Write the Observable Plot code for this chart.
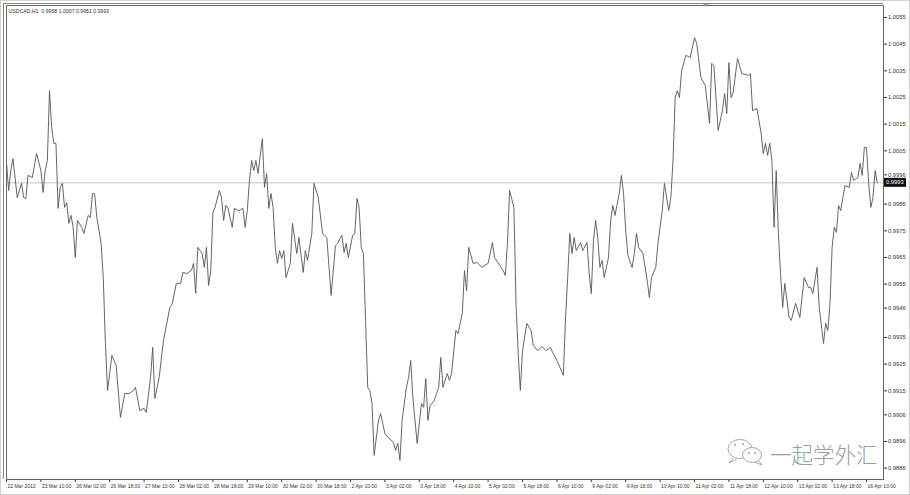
<!DOCTYPE html>
<html><head><meta charset="utf-8">
<script src="https://cdn.jsdelivr.net/npm/d3@7"></script>
<script src="https://cdn.jsdelivr.net/npm/@observablehq/plot@0.6"></script>
<style>
html,body{margin:0;padding:0;background:#fff;}
#chart{position:relative;width:910px;height:495px;overflow:hidden;}
#chart svg{display:block;}
</style>
</head><body><div id="chart"></div>
<script>
// ---------- data ----------
const symbolHeader = "USDCAD,H1  0.9958 1.0007 0.9951 0.9993";
const lastClose = 0.9993;
const watermarkText = "一起学外汇";

const priceTickLabels = ["1.0055","1.0045","1.0035","1.0025","1.0015","1.0005","0.9996","0.9985","0.9975",
  "0.9965","0.9955","0.9946","0.9935","0.9925","0.9915","0.9906","0.9896","0.9886"];

const timeTickBars = [0,16,32,48,64,80,96,112,128,144,160,176,192,208,224,240,256,272,288,304,320,336,352,368,384,400];
const timeTickLabels = ["22 Mar 2012","23 Mar 10:00","26 Mar 02:00","26 Mar 18:00","27 Mar 10:00","28 Mar 02:00",
  "28 Mar 18:00","29 Mar 10:00","30 Mar 02:00","30 Mar 18:00","2 Apr 10:00","3 Apr 02:00","3 Apr 18:00",
  "4 Apr 10:00","5 Apr 02:00","5 Apr 18:00","6 Apr 10:00","9 Apr 02:00","9 Apr 18:00","10 Apr 10:00",
  "11 Apr 02:00","11 Apr 18:00","12 Apr 10:00","13 Apr 02:00","13 Apr 18:00","16 Apr 10:00"];

// [hourly bar index, close]
const priceSeries = [
  [0,1.00006],[1,0.99901],[2,0.99976],[3,1.00021],[5,0.99875],[7,0.99928],[8,0.99875],[9,0.99871],[10,0.99958],
  [12,0.99950],[14,1.00040],[16,0.99976],[17,0.99894],[18,0.99976],[19,1.00014],[20,1.00276],[21,1.00138],
  [22,1.00078],[23,1.00078],[24,0.99834],[25,0.99913],[26,0.99928],[27,0.99838],[28,0.99856],[29,0.99778],
  [30,0.99808],[31,0.99763],[32,0.99650],[33,0.99789],[35,0.99763],[36,0.99740],[38,0.99808],[39,0.99800],
  [40,0.99890],[41,0.99890],[42,0.99800],[44,0.99703],[45,0.99575],[46,0.99328],[47,0.99151],[49,0.99283],
  [51,0.99245],[53,0.99050],[55,0.99140],[57,0.99140],[59,0.99151],[60,0.99163],[62,0.99076],[64,0.99084],
  [65,0.99069],[67,0.99200],[68,0.99313],[69,0.99121],[71,0.99200],[73,0.99339],[76,0.99463],[77,0.99474],
  [79,0.99553],[81,0.99553],
  [82,0.99594],[84,0.99590],[86,0.99601],[87,0.99628],[88,0.99515],[89,0.99688],[91,0.99665],[92,0.99613],
  [93,0.99688],[94,0.99545],[95,0.99601],[96,0.99819],[97,0.99838],[99,0.99901],[100,0.99875],[101,0.99789],
  [102,0.99845],[103,0.99834],[105,0.99763],[106,0.99834],[108,0.99826],[110,0.99834],[111,0.99763],
  [112,0.99826],[113,0.99939],[114,1.00014],[115,0.99976],[116,1.00014],[117,0.99965],[119,1.00096],
  [120,0.99913],[121,0.99965],[122,0.99834],[123,0.99890],[124,0.99838],[125,0.99688],[126,0.99628],
  [127,0.99676],[128,0.99646],[129,0.99676],[130,0.99575],[132,0.99628],[133,0.99778],[135,0.99665],
  [136,0.99725],[138,0.99594],[139,0.99676],[140,0.99639],[142,0.99740],[143,0.99928],[145,0.99875],
  [147,0.99740],[149,0.99725],[150,0.99613],[151,0.99508],[153,0.99695],[154,0.99703],[156,0.99733],
  [157,0.99669],[158,0.99703],[159,0.99650],[161,0.99733],
  [162,0.99740],[163,0.99871],[164,0.99838],[165,0.99688],[166,0.99665],[167,0.99414],[168,0.99163],
  [169,0.99151],[170,0.99103],[171,0.98908],[173,0.99039],[174,0.99065],[176,0.98990],[178,0.98971],
  [180,0.98956],[181,0.98926],[182,0.98953],[183,0.98889],[184,0.99039],[186,0.99163],[187,0.99200],
  [188,0.99264],[189,0.99125],[191,0.98953],[193,0.99103],[194,0.99088],[195,0.99196],[196,0.99039],
  [197,0.99095],[199,0.99114],[200,0.99140],[201,0.99163],[202,0.99275],[203,0.99163],[205,0.99215],
  [206,0.99189],[207,0.99215],[209,0.99376],[210,0.99365],[212,0.99440],[213,0.99601],[214,0.99526],
  [215,0.99688],[217,0.99628],[219,0.99631],[221,0.99613],[224,0.99628],[226,0.99706],[227,0.99650],
  [230,0.99613],[231,0.99601],[232,0.99583],[233,0.99703],[234,0.99901],[236,0.99838],[237,0.99474],
  [238,0.99290],[239,0.99151],[240,0.99301],[242,0.99403],[244,0.99376],[245,0.99320],[247,0.99301],
  [249,0.99316],[251,0.99301],[253,0.99313],[254,0.99294],[256,0.99264],[259,0.99208],
  [260,0.99421],[261,0.99575],[262,0.99740],[263,0.99665],[264,0.99725],[265,0.99676],[267,0.99706],
  [268,0.99676],[270,0.99706],[271,0.99590],[272,0.99515],[273,0.99714],[274,0.99789],[275,0.99725],
  [276,0.99613],[277,0.99639],[278,0.99575],[280,0.99650],[281,0.99789],[282,0.99845],[283,0.99808],
  [285,0.99890],[286,0.99958],[287,0.99890],[288,0.99751],[289,0.99658],[291,0.99613],[292,0.99665],
  [293,0.99740],[294,0.99688],[296,0.99665],[298,0.99564],[299,0.99500],[300,0.99575],[302,0.99613],
  [303,0.99703],[305,0.99826],[306,0.99928],[308,0.99826],[309,0.99875],[310,1.00014],[311,1.00250],
  [312,1.00276],[313,1.00250],[314,1.00351],[316,1.00408],[318,1.00400],[320,1.00475],[321,1.00453],
  [323,1.00325],[325,1.00295],
  [327,1.00153],[328,1.00378],[329,1.00370],[331,1.00126],[333,1.00201],[334,1.00265],[335,1.00190],
  [336,1.00381],[337,1.00250],[338,1.00269],[340,1.00396],[342,1.00340],[345,1.00333],[346,1.00340],
  [347,1.00201],[349,1.00209],[351,1.00115],[352,1.00040],[353,1.00078],[354,1.00033],[355,1.00078],
  [356,1.00014],[357,0.99763],[358,0.99976],[359,0.99740],[360,0.99590],[361,0.99463],[362,0.99553],
  [364,0.99425],[365,0.99414],[367,0.99478],[369,0.99425],[371,0.99575],[373,0.99538],[374,0.99538],
  [375,0.99515],[377,0.99613],[378,0.99463],[380,0.99328],[381,0.99403],[382,0.99376],[383,0.99474],
  [384,0.99688],[385,0.99763],[386,0.99744],[387,0.99845],[388,0.99826],[389,0.99875],[390,0.99920],
  [392,0.99913],[393,0.99969],[394,0.99939],[396,0.99950],[397,1.00003],[398,0.99958],[399,1.00063],
  [400,1.00063],[401,0.99928],[402,0.99838],[403,0.99875],[404,0.99976],[405,0.99930]
];

// ---------- chart ----------
const data = priceSeries.map(([bar, close]) => ({bar, close}));
const priceTicks = priceTickLabels.map(Number);
const tickText = new Map(priceTicks.map((v, i) => [v, priceTickLabels[i]]));
const timeText = new Map(timeTickBars.map((b, i) => [b, timeTickLabels[i]]));

const chart = Plot.plot({
  width: 910,
  height: 495,
  marginLeft: 6,
  marginRight: 27,
  marginTop: 5,
  marginBottom: 16,
  style: {background: "#fff", fontFamily: "'Liberation Sans', Arial, sans-serif", fontSize: "5.8px", color: "#333"},
  x: {domain: [0, 407.9], axis: "bottom", ticks: timeTickBars, tickFormat: () => "", tickSize: 3, label: null, line: true},
  y: {domain: [0.988175, 1.00595], axis: "right", ticks: priceTicks, tickFormat: d => tickText.get(d),
      tickSize: 3, tickPadding: 1.5, label: null, line: true},
  marks: [
    Plot.ruleY([lastClose], {stroke: "#c4c4c4", strokeWidth: 1}),
    Plot.line(data, {x: "bar", y: "close", stroke: "#555", strokeWidth: 0.9}),
    Plot.frame({stroke: "#666"}),
    Plot.text(timeTickBars, {x: d => d, frameAnchor: "bottom", dy: 8, dx: 1, textAnchor: "start",
      text: d => timeText.get(d), fontSize: 5, fill: "#333"}),
    Plot.text([symbolHeader], {frameAnchor: "top-left", dx: 2, dy: 3.5, textAnchor: "start",
      text: d => d, fontSize: 5.2, fill: "#333"})
  ]
});

document.getElementById("chart").appendChild(chart);

// ---------- decorations ----------
const svg = d3.select(chart);
const yPix = chart.scale("y").apply(lastClose);

// outer frame lines (MT4 window)
svg.append("rect").attr("x", 0.5).attr("y", 0.5).attr("width", 909).attr("height", 494)
  .attr("fill", "none").attr("stroke", "#d0d0d0");
svg.append("line").attr("x1", 3.5).attr("x2", 3.5).attr("y1", 3).attr("y2", 479)
  .attr("stroke", "#888");
svg.append("line").attr("x1", 3).attr("x2", 883).attr("y1", 3.5).attr("y2", 3.5)
  .attr("stroke", "#888");

// current price box
const box = svg.append("g");
box.append("rect").attr("x", 884).attr("y", yPix - 4.5).attr("width", 22).attr("height", 9).attr("fill", "#111");
box.append("text").attr("x", 886).attr("y", yPix).attr("dy", "0.35em").attr("text-anchor", "start")
  .attr("fill", "#fff").attr("font-size", 5.8).attr("font-family", "'Liberation Sans', Arial, sans-serif")
  .text(lastClose.toFixed(4));

// small shift marker at top
svg.append("path").attr("d", "M703,4 L709,4 L706,7 Z").attr("fill", "#999");

// watermark (WeChat style icon + text)
const wm = svg.append("g").attr("fill", "none").attr("stroke", "#a8a8a8").attr("stroke-width", 1);
wm.append("path").attr("d", "M733,458 L729,463 L737,459");
wm.append("ellipse").attr("cx", 740).attr("cy", 449).attr("rx", 12).attr("ry", 9.5).attr("fill", "#fff");
wm.append("path").attr("d", "M758,460 L762,465 L754,462").attr("fill", "#fff");
wm.append("ellipse").attr("cx", 752).attr("cy", 455).attr("rx", 9.5).attr("ry", 7.5).attr("fill", "#fff");
[[735,445],[743,444],[749,453],[755,453]].forEach(([cx, cy]) =>
  wm.append("circle").attr("cx", cx).attr("cy", cy).attr("r", 1.1).attr("fill", "#a8a8a8").attr("stroke", "none"));
svg.append("text").attr("x", 770).attr("y", 463).attr("text-anchor", "start")
  .attr("font-family", "'Noto Sans CJK SC', sans-serif").attr("font-weight", 300)
  .attr("font-size", 21.5).attr("fill", "#9c9c9c").text(watermarkText);
</script>
</body></html>
